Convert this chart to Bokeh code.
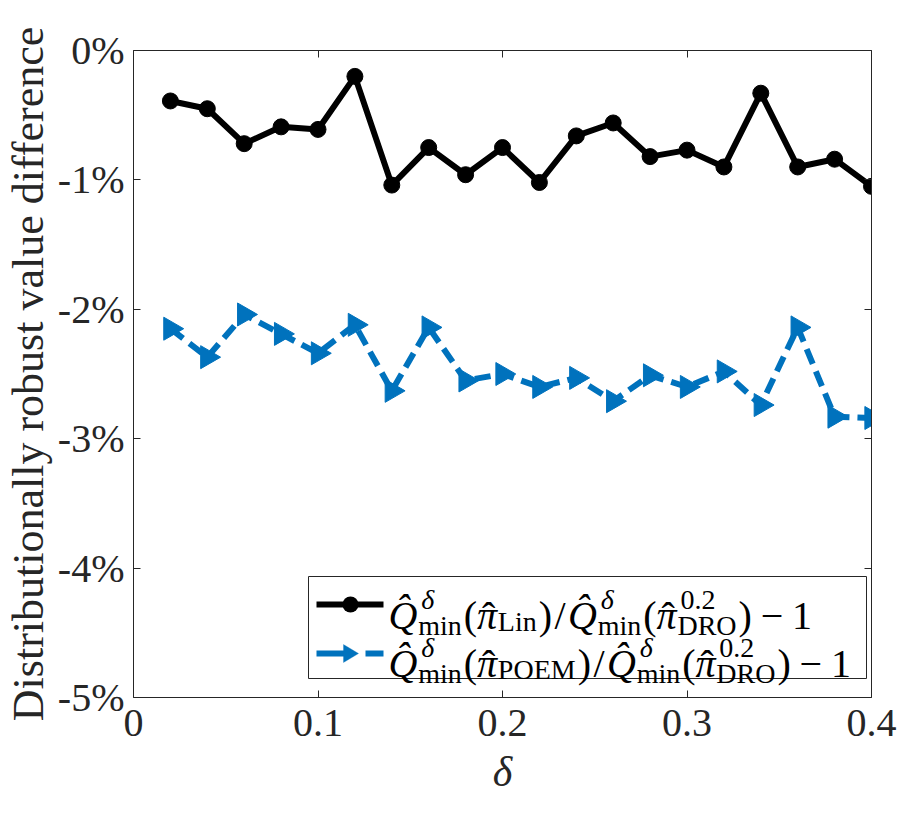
import numpy as np
from bokeh.plotting import figure
from bokeh.models import (Range1d, FixedTicker, LinearAxis, Label,
                          BoxAnnotation, PolyAnnotation)
from bokeh.embed import file_html
from bokeh.resources import INLINE

# ---------------- data ----------------
delta = [0.02, 0.04, 0.06, 0.08, 0.10, 0.12, 0.14, 0.16, 0.18, 0.20,
         0.22, 0.24, 0.26, 0.28, 0.30, 0.32, 0.34, 0.36, 0.38, 0.40]
lin_vs_dro = [-0.39, -0.45, -0.72, -0.59, -0.61, -0.20, -1.04, -0.75, -0.96, -0.75,
              -1.02, -0.66, -0.56, -0.82, -0.77, -0.90, -0.33, -0.90, -0.84, -1.05]
poem_vs_dro = [-2.15, -2.37, -2.04, -2.19, -2.34, -2.12, -2.63, -2.14, -2.55, -2.50,
               -2.60, -2.53, -2.71, -2.51, -2.60, -2.48, -2.74, -2.14, -2.83, -2.84]

x_ticks = [0, 0.1, 0.2, 0.3, 0.4]
x_tick_labels = ["0", "0.1", "0.2", "0.3", "0.4"]
y_ticks = [-5, -4, -3, -2, -1, 0]
y_tick_labels = ["-5%", "-4%", "-3%", "-2%", "-1%", "0%"]
y_label = "Distributionally robust value difference"
x_label = "δ"

# ---------------- style ----------------
FONT = "Liberation Serif"
AX = "#262626"
BLUE = "#0072BD"

p = figure(width=897, height=797,
           min_border_left=127, min_border_right=26,
           min_border_top=50, min_border_bottom=99,
           x_range=Range1d(0, 0.4), y_range=Range1d(-5, 0),
           x_axis_location=None, y_axis_location=None,
           output_backend="svg", toolbar_location=None)
p.grid.visible = False
p.outline_line_color = None
p.background_fill_color = "white"
p.border_fill_color = "white"


def make_axis(ticks, labels, show_labels, standoff):
    ax = LinearAxis(ticker=FixedTicker(ticks=ticks))
    ax.major_label_overrides = {float(t): l for t, l in zip(ticks, labels)}
    ax.axis_line_color = AX
    ax.axis_line_width = 1
    ax.major_tick_line_color = AX
    ax.major_tick_line_width = 1
    ax.major_tick_in = 7
    ax.major_tick_out = 0
    ax.minor_tick_line_color = None
    ax.major_label_standoff = standoff
    if show_labels:
        ax.major_label_text_font = FONT
        ax.major_label_text_font_size = "40px"
        ax.major_label_text_color = AX
    else:
        ax.major_label_text_font_size = "1px"
        ax.major_label_text_color = None
    return ax


xb = make_axis(x_ticks, x_tick_labels, True, 12)
xb.axis_label = x_label
xb.axis_label_text_font = FONT
xb.axis_label_text_font_size = "42px"
xb.axis_label_text_font_style = "italic"
xb.axis_label_text_color = AX
xb.axis_label_standoff = 10
p.add_layout(xb, "below")

yl = make_axis(y_ticks, y_tick_labels, True, 9)
yl.axis_label = y_label
yl.axis_label_text_font = FONT
yl.axis_label_text_font_size = "44px"
yl.axis_label_text_font_style = "normal"
yl.axis_label_text_color = AX
yl.axis_label_standoff = 2
p.add_layout(yl, "left")

p.add_layout(make_axis(x_ticks, x_tick_labels, False, 0), "above")
p.add_layout(make_axis(y_ticks, y_tick_labels, False, 0), "right")

# ---------------- series ----------------
p.line(delta, lin_vs_dro, line_color="black", line_width=6)
p.scatter(delta, lin_vs_dro, marker="circle", size=16,
          fill_color="black", line_color="black")
p.line(delta, poem_vs_dro, line_color=BLUE, line_width=6, line_dash="16 8")
p.scatter(delta, poem_vs_dro, marker="triangle", size=23, angle=-np.pi / 2,
          fill_color=BLUE, line_color=BLUE)

# ---------------- hand-made legend (screen units, frame-relative) ----------------
LX, LY, LW, LH = 175, 19, 558, 102
R1, R2 = LY + 74, LY + 25          # row centre lines
LINE_HALF = 3


def sbox(left, right, bottom, top, color, **kw):
    b = BoxAnnotation(left=left, right=right, bottom=bottom, top=top,
                      left_units="screen", right_units="screen",
                      bottom_units="screen", top_units="screen",
                      fill_color=color, fill_alpha=1, **kw)
    p.add_layout(b)
    return b


sbox(LX, LX + LW, LY, LY + LH, "white", line_color=AX, line_width=1, line_alpha=1)
# row 1 sample: solid black line with a round marker
sbox(LX + 8, LX + 75, R1 - LINE_HALF, R1 + LINE_HALF, "black", line_color=None)
sbox(LX + 42 - 8, LX + 42 + 8, R1 - 8, R1 + 8, "black", line_color=None, border_radius=8)
# row 2 sample: blue dashed line with a right-pointing triangle
sbox(LX + 8, LX + 36, R2 - LINE_HALF, R2 + LINE_HALF, BLUE, line_color=None)
sbox(LX + 57, LX + 75, R2 - LINE_HALF, R2 + LINE_HALF, BLUE, line_color=None)
p.add_layout(PolyAnnotation(xs=[LX + 35, LX + 35, LX + 50], ys=[R2 + 9, R2 - 9, R2],
                            xs_units="screen", ys_units="screen",
                            fill_color=BLUE, fill_alpha=1, line_color=BLUE, line_width=1))

# legend texts, typeset piece by piece (math-like layout)
EM = 40.0
MAIN_SIZE = "40px"
SCRIPT_SIZE = "28px"
SUP_UP = 16

# kinds: "t" plain main text, "h" main text with a hat, "s" sup/sub scripts
# ("t", text, advance_em, italic, lead_em) ; ("s", sup, sub, advance_em, sub_drop_px)
row1 = [("t", "Q\u0302", 0.742, True, 0.0),
        ("s", "δ", "min", 1.139, 10),
        ("t", "(", 0.333, False, 0.0),
        ("h", "π", 0.52, True, 0.0),
        ("s", None, "Lin", 1.022, 6),
        ("t", ")", 0.333, False, 0.0),
        ("t", "/", 0.40, False, 0.06),
        ("t", "Q\u0302", 0.742, True, 0.0),
        ("s", "δ", "min", 1.139, 10),
        ("t", "(", 0.333, False, 0.0),
        ("h", "π", 0.52, True, 0.0),
        ("s", "0.2", "DRO", 1.528, 10),
        ("t", ")", 0.333, False, 0.0),
        ("t", "\u2212", 1.004, False, 0.22),
        ("t", "1", 0.5, False, 0.0)]
row2 = [("s", None, "POEM", 1.995, 6) if k == 4 else piece for k, piece in enumerate(row1)]


def lab(x, y, txt, size, italic, align="left"):
    p.add_layout(Label(x=x, y=y, x_units="screen", y_units="screen", text=txt,
                       text_font=FONT, text_font_size=size,
                       text_font_style="italic" if italic else "normal",
                       text_color="black", text_align=align, text_baseline="alphabetic"))


def typeset(pieces, x0, base):
    x = x0
    for piece in pieces:
        kind = piece[0]
        if kind in ("t", "h"):
            _, txt, adv, ital, lead = piece
            lab(x + lead * EM, base, txt, MAIN_SIZE, ital)
            if kind == "h":
                lab(x + 0.29 * EM, base - 1, "\u02C6", MAIN_SIZE, False, "center")
            x += adv * EM
        else:
            _, sup, sub, adv, down = piece
            if sup:
                lab(x + 3, base + SUP_UP, sup, SCRIPT_SIZE, sup == "δ")
            if sub:
                lab(x, base - down, sub, SCRIPT_SIZE, False)
            x += adv * EM


typeset(row1, LX + 80, LY + 63)
typeset(row2, LX + 80, LY + 15)

open("out.html", "w").write(file_html(p, INLINE))
